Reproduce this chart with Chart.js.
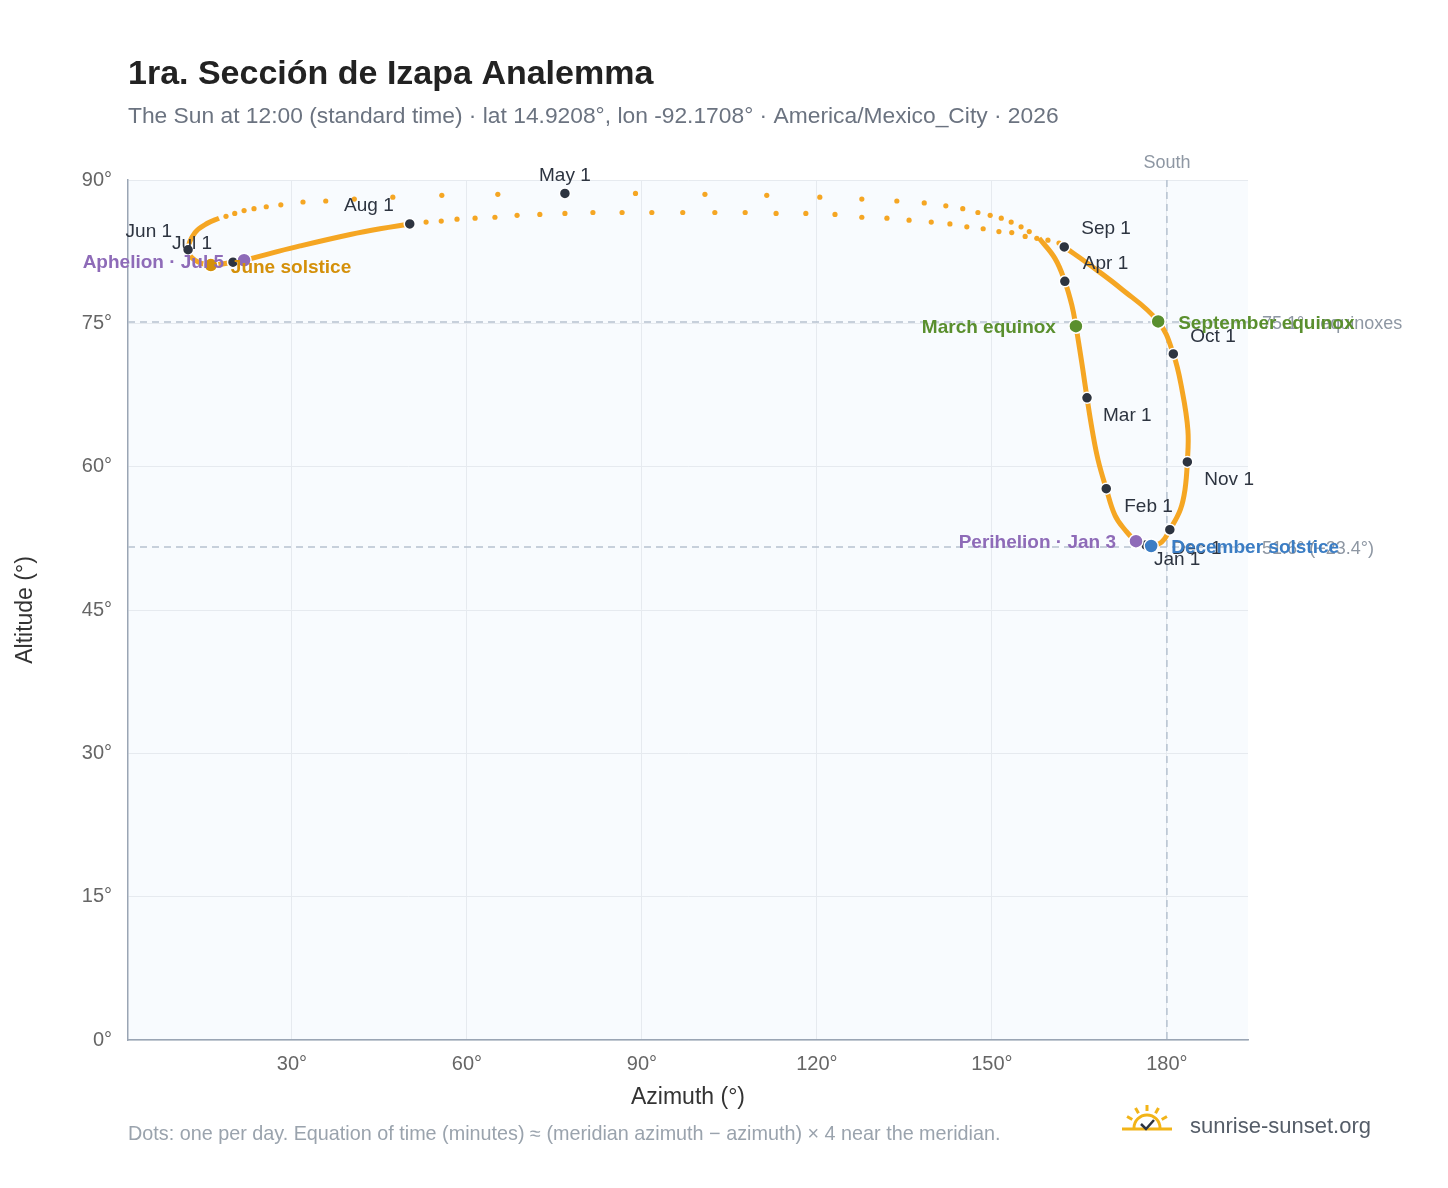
<!DOCTYPE html>
<html><head><meta charset="utf-8">
<script src="https://cdn.jsdelivr.net/npm/chart.js@4"></script>
<style>html,body{margin:0;padding:0;background:#fff}#c{display:block}</style>
</head><body>
<canvas id="c" width="1448" height="1188"></canvas>
<script>
// continuous (dense) parts of the analemma, null breaks the line
const curveAz = [176.4,174.7,172.8,171.1,169.6,168.2,167.2,166.3,165.6,164.4,163.7,162.5,160.8,158.1, null,
	17.5,15.6,13.4,12.2,13.4,16.1,19.9,21.8,26.2,31.4,40.0,45.1,50.2, null,
	162.4,166.8,172.0,178.5,181.1,182.6,183.6,183.5,183.1,182.3,180.5,179.1,177.3,176.4];
const curveAlt = [51.8,52.2,53.4,54.9,57.7,60.7,63.8,67.2,70.1,74.7,76.9,79.4,81.8,83.9, null,
	86.0,85.5,84.5,82.7,81.6,81.1,81.4,81.6,82.3,83.1,84.3,84.9,85.4, null,
	83.0,81.1,78.7,75.2,71.8,68.0,63.8,60.5,57.6,55.5,53.4,52.1,51.7,51.8];
// single days where the sun moves fast near the zenith
const dotAz = [156.4,155.0,153.3,151.6,149.7,147.6,145.0,142.1,138.4,133.7,127.7,120.5,111.4,100.8,88.9,76.8,65.3,55.7,47.3,40.7,35.8,31.9,28.1,25.6,23.5,21.8,20.2,18.7,
	53.0,55.6,58.3,61.4,64.8,68.6,72.5,76.8,81.6,86.6,91.7,97.0,102.5,107.7,113.0,118.1,123.1,127.7,132.0,135.8,139.6,142.8,145.7,148.5,151.2,153.4,155.7,157.7,159.6,161.5];
const dotAlt = [84.6,85.1,85.6,86.0,86.3,86.6,87.0,87.3,87.6,87.8,88.0,88.2,88.4,88.5,88.6,88.6,88.5,88.4,88.2,88.0,87.8,87.7,87.4,87.2,87.0,86.8,86.5,86.2,
	85.6,85.7,85.9,86.0,86.1,86.3,86.4,86.5,86.6,86.6,86.6,86.6,86.6,86.6,86.5,86.5,86.4,86.1,86.0,85.8,85.6,85.4,85.1,84.9,84.6,84.5,84.1,83.9,83.7,83.4];
const monthNames = ['Jan 1','Feb 1','Mar 1','Apr 1','May 1','Jun 1','Jul 1','Aug 1','Sep 1','Oct 1','Nov 1','Dec 1'];
const monthAz = [176.4,169.6,166.3,162.5,76.8,12.2,19.9,50.2,162.4,181.1,183.5,180.5];
const monthAlt = [51.8,57.7,67.2,79.4,88.6,82.7,81.4,85.4,83.0,71.8,60.5,53.4];
const eventNames = ['March equinox','September equinox','June solstice','December solstice','Perihelion · Jan 3','Aphelion · Jul 5'];
const eventAz = [164.4,178.5,16.1,177.3,174.7,21.8];
const eventAlt = [74.7,75.2,81.1,51.7,52.2,81.6];
const xTicks = [30,60,90,120,150,180];
const yTicks = [0,15,30,45,60,75,90];

const monthLabelPos = [[8,15,'left'],[18,18,'left'],[16,18,'left'],[18,-18,'left'],[0,-18,'center'],[-16,-18,'right'],[-61,-18,'left'],[-16,-18,'right'],[17,-18,'left'],[17,-17,'left'],[17,18,'left'],[2,19,'left']];
const eventStyle = [['#5a8f2e',-20,2,'right'],['#5a8f2e',20,2,'left'],['#d4900a',20,3,'left'],['#3b7dc4',20,2,'left'],['#8e6bb8',-20,2,'right'],['#8e6bb8',-20,2,'right']];
const FONT = '"Liberation Sans", Arial, sans-serif';

const deco = {
	id: 'deco',
	beforeDraw(c) {
		const ctx = c.ctx, a = c.chartArea;
		ctx.save();
		ctx.fillStyle = '#fff'; ctx.fillRect(0, 0, c.width, c.height);
		ctx.fillStyle = '#f8fbfe'; ctx.fillRect(a.left, a.top, a.right - a.left, a.bottom - a.top);
		ctx.restore();
	},
	beforeDatasetsDraw(c) {
		const ctx = c.ctx, a = c.chartArea, x = c.scales.x, y = c.scales.y;
		ctx.save();
		ctx.strokeStyle = '#b6c2d0'; ctx.lineWidth = 1.5; ctx.setLineDash([7, 5]);
		[75.15, 51.6].forEach(v => { ctx.beginPath(); ctx.moveTo(a.left, y.getPixelForValue(v)); ctx.lineTo(a.right, y.getPixelForValue(v)); ctx.stroke(); });
		const sx = x.getPixelForValue(180);
		ctx.beginPath(); ctx.moveTo(sx, a.top); ctx.lineTo(sx, a.bottom); ctx.stroke();
		ctx.setLineDash([]);
		ctx.font = '18px ' + FONT; ctx.fillStyle = '#8e97a3'; ctx.textAlign = 'center';
		ctx.fillText('South', sx, a.top - 12);
		ctx.textAlign = 'left'; ctx.textBaseline = 'middle';
		ctx.fillText('75.1° · equinoxes', a.right + 14, y.getPixelForValue(75.15) + 2);
		ctx.fillText('51.6° (−23.4°)', a.right + 14, y.getPixelForValue(51.6) + 2);
		ctx.restore();
	},
	afterDraw(c) {
		const ctx = c.ctx, a = c.chartArea, x = c.scales.x, y = c.scales.y;
		ctx.save();
		ctx.textBaseline = 'middle';
		ctx.font = '19px ' + FONT; ctx.fillStyle = '#2d3440';
		monthNames.forEach((n, i) => {
			const p = monthLabelPos[i];
			ctx.textAlign = p[2];
			ctx.fillText(n, x.getPixelForValue(monthAz[i]) + p[0], y.getPixelForValue(monthAlt[i]) + p[1]);
		});
		ctx.font = 'bold 19px ' + FONT;
		eventNames.forEach((n, i) => {
			const s = eventStyle[i];
			ctx.fillStyle = s[0]; ctx.textAlign = s[3];
			ctx.fillText(n, x.getPixelForValue(eventAz[i]) + s[1], y.getPixelForValue(eventAlt[i]) + s[2]);
		});
		// titles
		ctx.textBaseline = 'alphabetic'; ctx.textAlign = 'left';
		ctx.fillStyle = '#222'; ctx.font = 'bold 34px ' + FONT;
		ctx.fillText('1ra. Sección de Izapa Analemma', 128, 84);
		ctx.fillStyle = '#6b7380'; ctx.font = '22.8px ' + FONT;
		ctx.fillText('The Sun at 12:00 (standard time) · lat 14.9208°, lon -92.1708° · America/Mexico_City · 2026', 128, 123);
		ctx.fillStyle = '#333'; ctx.font = '23px ' + FONT; ctx.textAlign = 'center';
		ctx.fillText('Azimuth (°)', (a.left + a.right) / 2, 1104);
		ctx.save(); ctx.translate(32, (a.top + a.bottom) / 2); ctx.rotate(-Math.PI / 2);
		ctx.fillText('Altitude (°)', 0, 0); ctx.restore();
		ctx.textAlign = 'left'; ctx.fillStyle = '#9aa3ad'; ctx.font = '19.8px ' + FONT;
		ctx.fillText('Dots: one per day. Equation of time (minutes) ≈ (meridian azimuth − azimuth) × 4 near the meridian.', 128, 1140);
		ctx.fillStyle = '#555d68'; ctx.font = '22px ' + FONT;
		ctx.fillText('sunrise-sunset.org', 1190, 1133);
		// sun logo
		ctx.strokeStyle = '#f2b418'; ctx.lineWidth = 3;
		ctx.beginPath(); ctx.arc(1147, 1128, 13, Math.PI, 2 * Math.PI); ctx.stroke();
		ctx.beginPath(); ctx.moveTo(1122, 1129); ctx.lineTo(1172, 1129); ctx.stroke();
		for (let k = 0; k < 5; k++) {
			const t = Math.PI + Math.PI * (k + 1) / 6;
			ctx.beginPath(); ctx.moveTo(1147 + 17 * Math.cos(t), 1128 + 17 * Math.sin(t));
			ctx.lineTo(1147 + 23 * Math.cos(t), 1128 + 23 * Math.sin(t)); ctx.stroke();
		}
		ctx.strokeStyle = '#2d3440'; ctx.lineWidth = 2.5;
		ctx.beginPath(); ctx.moveTo(1141, 1124); ctx.lineTo(1146, 1129); ctx.lineTo(1154, 1120); ctx.stroke();
		ctx.restore();
	}
};

const pts = (xs, ys) => xs.map((v, i) => (v === null ? { x: null, y: null } : { x: v, y: ys[i] }));

new Chart(document.getElementById('c'), {
	type: 'scatter',
	data: {
		datasets: [
			{ data: pts(eventAz, eventAlt), pointRadius: 7, borderColor: '#fff', borderWidth: 1.5,
				backgroundColor: ['#5a8f2e', '#5a8f2e', '#d4900a', '#3b7dc4', '#8e6bb8', '#8e6bb8'] },
			{ data: pts(monthAz, monthAlt), pointRadius: 5.5, backgroundColor: '#2d3440', borderColor: '#fff', borderWidth: 1.5 },
			{ data: pts(curveAz, curveAlt), showLine: true, spanGaps: false, borderColor: '#f5a623', borderWidth: 5, pointRadius: 0, tension: 0.4 },
			{ data: pts(dotAz, dotAlt), pointRadius: 2.6, backgroundColor: '#f5a623', borderWidth: 0 }
		]
	},
	options: {
		responsive: false,
		animation: false,
		layout: { padding: { left: 0, top: 180, right: 200, bottom: 0 } },
		plugins: { legend: { display: false }, tooltip: { enabled: false } },
		scales: {
			x: {
				type: 'linear', min: 1.9, max: 193.9,
				afterBuildTicks: s => { s.ticks = xTicks.map(v => ({ value: v })); },
				afterFit: s => { s.height = 148; },
				grid: { color: '#e6eaef', drawTicks: false },
				border: { color: '#9aa5b4', width: 1.5 },
				ticks: { padding: 12, color: '#666', font: { size: 20, family: FONT }, callback: v => v + '°' }
			},
			y: {
				min: 0, max: 90,
				afterBuildTicks: s => { s.ticks = yTicks.map(v => ({ value: v })); },
				afterFit: s => { s.width = 128; },
				grid: { color: '#e6eaef', drawTicks: false },
				border: { color: '#9aa5b4', width: 1.5 },
				ticks: { padding: 16, color: '#666', font: { size: 20, family: FONT }, callback: v => v + '°' }
			}
		}
	},
	plugins: [deco]
});
</script>
</body></html>
